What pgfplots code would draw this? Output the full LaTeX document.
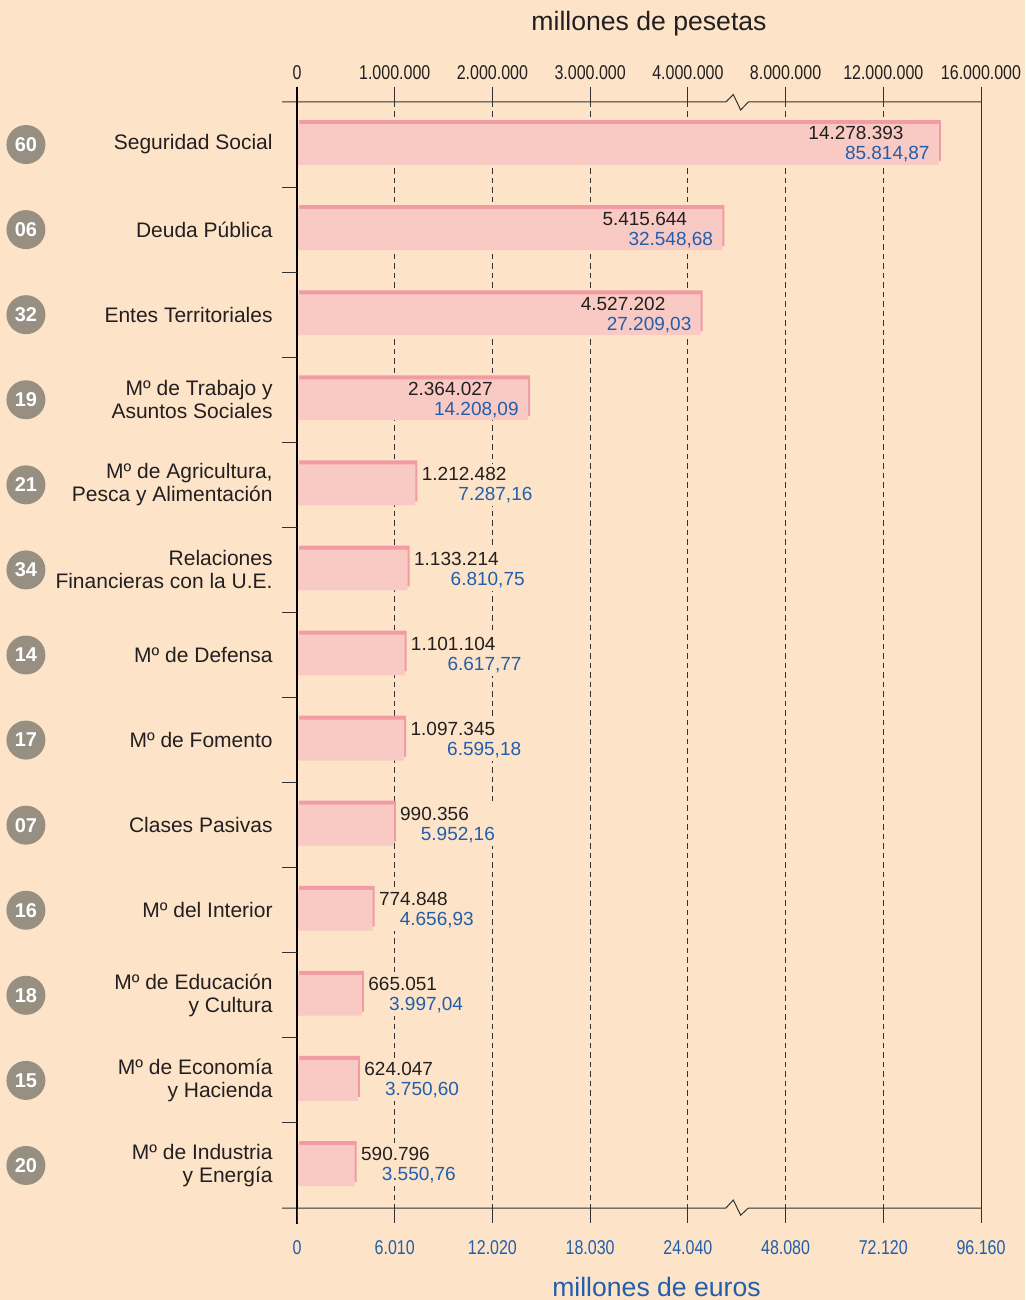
\documentclass[border=0pt]{standalone}
\usepackage{pgfplots}
\pgfplotsset{compat=1.18}
\usepackage{pgfplotstable}
\usepackage{fontspec}
\setmainfont{Liberation Sans}
\newfontfamily\condfont{Liberation Sans}[FakeStretch=0.8]
\definecolor{bg}{RGB}{253,228,200}
\definecolor{barlight}{RGB}{249,201,196}
\definecolor{bardark}{RGB}{242,155,163}
\definecolor{eurblue}{RGB}{33,94,172}
\definecolor{badgegray}{RGB}{150,143,130}
\definecolor{txt}{RGB}{35,31,32}
\definecolor{axisgray}{RGB}{50,50,50}

% v = millions of pesetas; lab = printed pesetas / euros labels
\pgfplotstableread{
idx code v lab
0 60 14.278393 14.278.393/85.814,87
1 06 5.415644 5.415.644/32.548,68
2 32 4.527202 4.527.202/27.209,03
3 19 2.364027 2.364.027/14.208,09
4 21 1.212482 1.212.482/7.287,16
5 34 1.133214 1.133.214/6.810,75
6 14 1.101104 1.101.104/6.617,77
7 17 1.097345 1.097.345/6.595,18
8 07 0.990356 990.356/5.952,16
9 16 0.774848 774.848/4.656,93
10 18 0.665051 665.051/3.997,04
11 15 0.624047 624.047/3.750,60
12 20 0.590796 590.796/3.550,76
}\data
% position on the broken scale: linear to 4 million, then one tick per 4 million
\pgfplotstablecreatecol[create col/expr={min(\thisrow{v},4)+max(\thisrow{v}-4,0)/4}]{pos}\data

\def\splitlab#1/#2\relax{#1\rule{13pt}{0pt}\\\textcolor{eurblue}{#2}}
\newcommand\vallabel{\edef\tmplab{\pgfplotspointmeta}\expandafter\splitlab\tmplab\relax}

\begin{document}
\begin{tikzpicture}
\fill[bg] (-148.5pt,-46pt) rectangle (364pt,604pt);
\begin{axis}[
  at={(0,0)}, anchor=south west,
  scale only axis, width=342pt, height=553pt,
  xmin=0, xmax=7, ymin=-0.5, ymax=12.5, y dir=reverse,
  clip=false,
  axis line style={draw=none},
  xtick={0,...,7},
  xticklabels={0,1.000.000,2.000.000,3.000.000,4.000.000,8.000.000,12.000.000,16.000.000},
  xtick pos=right, xticklabel pos=right,
  tick align=outside, major tick length=7.5pt,
  tick style={axisgray, line width=0.5pt},
  xmajorgrids, grid style={axisgray, line width=0.5pt, dash pattern=on 2.75pt off 2pt},
  xticklabel style={font=\condfont\fontsize{10}{12}\selectfont, text=txt},
  ytick={0,...,12},
  yticklabels={{Seguridad Social},{Deuda Pública},{Entes Territoriales},{Mº de Trabajo y\\Asuntos Sociales},{Mº de Agricultura,\\Pesca y Alimentación},{Relaciones\\Financieras con la U.E.},{Mº de Defensa},{Mº de Fomento},{Clases Pasivas},{Mº del Interior},{Mº de Educación\\y Cultura},{Mº de Economía\\y Hacienda},{Mº de Industria\\y Energía}},
  ytick style={draw=none},
  yticklabel style={font=\fontsize{10.5}{11.5}\selectfont, align=right, text=txt, inner sep=0pt, anchor=east, xshift=-4.5pt},
]
\addplot[xbar, bar shift=0pt, bar width=0.48, fill=bardark, draw=none, xshift=1pt, yshift=2pt, forget plot]
  table[x=pos, y=idx] {\data};
\addplot[xbar, bar shift=0pt, bar width=0.48, fill=barlight, draw=none, forget plot]
  table[x=pos, y=idx] {\data};
% value labels inside the bar
\addplot[draw=none, forget plot, restrict y to domain=0:3, point meta=explicit symbolic,
  nodes near coords={\vallabel},
  nodes near coords style={anchor=east, xshift=-4.5pt, align=right, inner sep=0pt, font=\fontsize{9.5}{10}\selectfont, text=txt}]
  table[x=pos, y=idx, meta=lab] {\data};
% value labels outside the bar
\addplot[draw=none, forget plot, restrict y to domain=4:12, point meta=explicit symbolic,
  nodes near coords={\vallabel},
  nodes near coords style={anchor=west, xshift=1.5pt, align=right, inner sep=1.5pt, fill=bg, font=\fontsize{9.5}{10}\selectfont, text=txt}]
  table[x=pos, y=idx, meta=lab] {\data};
% section badges
\addplot[draw=none, forget plot, point meta=explicit symbolic, nodes near coords,
  nodes near coords style={circle, fill=badgegray, text=white, font=\bfseries\fontsize{10}{12}\selectfont, minimum size=19.5pt, inner sep=0pt, anchor=center}]
  table[x expr=-2.774, y=idx, meta=code] {\data};
% axis lines with break marks
\draw[axisgray, line width=0.5pt] (axis cs:-0.1535,-0.5) -- (axis cs:4.39,-0.5)
  -- ([shift={(3.67pt,3.75pt)}]axis cs:4.39,-0.5)
  -- ([shift={(7.34pt,-4pt)}]axis cs:4.39,-0.5)
  -- ([shift={(11.17pt,0pt)}]axis cs:4.39,-0.5) -- (axis cs:7,-0.5);
\draw[axisgray, line width=0.5pt] (axis cs:-0.1535,12.5) -- (axis cs:4.39,12.5)
  -- ([shift={(3.67pt,4pt)}]axis cs:4.39,12.5)
  -- ([shift={(7.34pt,-3.6pt)}]axis cs:4.39,12.5)
  -- ([shift={(11.17pt,0pt)}]axis cs:4.39,12.5) -- (axis cs:7,12.5);
\draw[axisgray, line width=0.5pt] (axis cs:7,-0.5) -- (axis cs:7,12.5);
\draw[black, line width=1pt] ([yshift=7.5pt]axis cs:0,-0.5) -- ([yshift=-8pt]axis cs:0,12.5);
\pgfplotsinvokeforeach{0.5,1.5,...,11.5}{\draw[axisgray, line width=0.5pt] (axis cs:0,#1) -- ([xshift=-7.5pt]axis cs:0,#1);}
\end{axis}
\begin{axis}[
  at={(0,0)}, anchor=south west,
  scale only axis, width=342pt, height=553pt,
  xmin=0, xmax=7, ymin=-0.5, ymax=12.5,
  axis line style={draw=none},
  ytick=\empty,
  xtick={0,...,7},
  xticklabels={0,6.010,12.020,18.030,24.040,48.080,72.120,96.160},
  xtick pos=left, xticklabel pos=left,
  tick align=outside, major tick length=7.5pt,
  tick style={axisgray, line width=0.5pt},
  xticklabel style={font=\condfont\fontsize{10}{12}\selectfont, text=eurblue, yshift=-5pt},
]
\end{axis}
\node[font=\fontsize{13.3}{16}\selectfont, text=txt, anchor=base] at (176pt,588.5pt) {millones de pesetas};
\node[font=\fontsize{13.3}{16}\selectfont, text=eurblue, anchor=base, inner sep=0pt] at (179.75pt,-44.5pt) {millones de euros};
\pgfresetboundingbox
\path[use as bounding box] (-148.5pt,-46pt) rectangle (364pt,604pt);
\end{tikzpicture}
\end{document}
